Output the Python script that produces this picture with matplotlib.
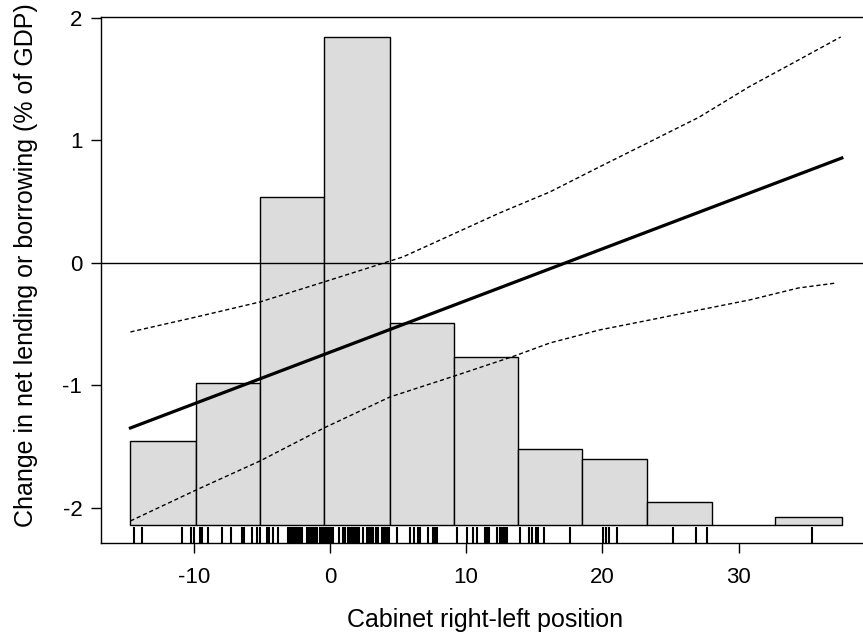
import matplotlib
matplotlib.use("Agg")
import matplotlib.pyplot as plt
import numpy as np

plt.rcParams['font.family'] = ['Liberation Sans', 'DejaVu Sans']
plt.rcParams['axes.unicode_minus'] = False

# histogram of cabinet positions, drawn as bars over the y scale
bin_edges = [-14.65, -9.82, -5.13, -0.44, 4.40, 9.08, 13.77, 18.53, 23.30, 28.06, 32.67, 37.58]
bar_tops = [-1.453, -0.98, 0.54, 1.845, -0.49, -0.767, -1.518, -1.60, -1.95, -2.139, -2.073]
bar_base = -2.139

# marginal effect line and confidence bounds
fit_x = [-14.65, 37.58]
fit_y = [-1.347, 0.857]

upper_x = [-14.65, -9.82, -5.13, -0.44, 5.35, 12.45, 16.15, 19.78, 23.50, 27.10, 30.80, 34.40, 37.50]
upper_y = [-0.563, -0.441, -0.318, -0.155, 0.049, 0.408, 0.58, 0.784, 0.99, 1.19, 1.44, 1.657, 1.845]

lower_x = [-14.65, -9.82, -5.13, -0.44, 4.40, 9.16, 13.55, 16.15, 19.78, 23.50, 27.10, 30.80, 34.40, 37.20]
lower_y = [-2.106, -1.853, -1.616, -1.347, -1.094, -0.922, -0.759, -0.653, -0.547, -0.465, -0.384, -0.302, -0.204, -0.163]

# observed positions (rug)
rug = [-14.36, -13.79, -10.86, -10.18, -10.01, -9.52, -9.38, -8.92, -7.89, -7.30,
       -6.45, -6.30, -5.69, -5.37, -5.13, -4.64, -4.47, -4.15, -3.79,
       -3.05, -2.95, -2.85, -2.75, -2.65, -2.55, -2.45, -2.35, -2.25, -2.15, -2.05,
       -1.65, -1.55, -1.45, -1.35, -1.25, -1.15, -1.05, -0.95,
       -0.70, -0.60, -0.50, -0.40, -0.30, -0.20, -0.10, 0.00, 0.10, 0.20,
       0.66, 0.95, 1.10,
       1.35, 1.45, 1.55, 1.65, 1.75, 1.85, 1.95, 2.05, 2.15,
       2.42, 2.75, 2.85, 2.95, 3.05, 3.15, 3.37, 3.52,
       3.85, 3.95, 4.05, 4.15, 4.25, 4.35, 4.91,
       5.86, 6.15, 6.45, 6.59, 7.18, 7.55, 7.65, 7.75, 7.85,
       9.30, 10.04, 10.48, 10.77, 11.4, 11.5, 11.6, 11.7, 12.23,
       12.5, 12.6, 12.7, 12.8, 12.9, 13.0,
       13.92, 14.65, 14.87, 15.16, 15.31, 15.68, 17.66,
       20.07, 20.29, 20.51, 21.10, 25.20, 26.89, 27.69, 35.38]

W, H = 863, 635
fig = plt.figure(figsize=(W / 100, H / 100), dpi=100)
ax = fig.add_axes([101 / W, 92 / H, 772 / W, 526 / H])

lefts = np.array(bin_edges[:-1])
widths = np.diff(bin_edges)
heights = np.array(bar_tops) - bar_base
ax.bar(lefts, heights, width=widths, bottom=bar_base, align='edge',
       color='#dcdcdc', edgecolor='black', linewidth=1.0, zorder=1)

ax.axhline(0, color='black', linewidth=1.0, zorder=2)
ax.plot(fit_x, fit_y, color='black', linewidth=2.3, zorder=3)
ax.plot(upper_x, upper_y, color='black', linewidth=1.0, linestyle=(0, (3, 2)), zorder=3)
ax.plot(lower_x, lower_y, color='black', linewidth=1.0, linestyle=(0, (3, 2)), zorder=3)

ax.vlines(rug, 0, 0.03, transform=ax.get_xaxis_transform(), color='black',
          linewidth=1.5, zorder=4)

ax.set_xlim(-16.81, 39.87)
ax.set_ylim(-2.286, 2.008)
ax.set_xticks([-10, 0, 10, 20, 30])
ax.set_yticks([-2, -1, 0, 1, 2])
ax.tick_params(direction='out', length=7.5, width=1, labelsize=16)
ax.tick_params(axis='x', pad=10)
ax.tick_params(axis='y', pad=6)
for s in ax.spines.values():
    s.set_linewidth(1.0)

fig.text(485 / W, 1 - 627 / H, 'Cabinet right-left position', fontsize=18,
         ha='center', va='baseline')
fig.text(33 / W, 1 - 265 / H, 'Change in net lending or borrowing (% of GDP)', fontsize=18,
         ha='center', va='baseline', rotation=90, rotation_mode='anchor')

fig.savefig('out.png', dpi=100)
